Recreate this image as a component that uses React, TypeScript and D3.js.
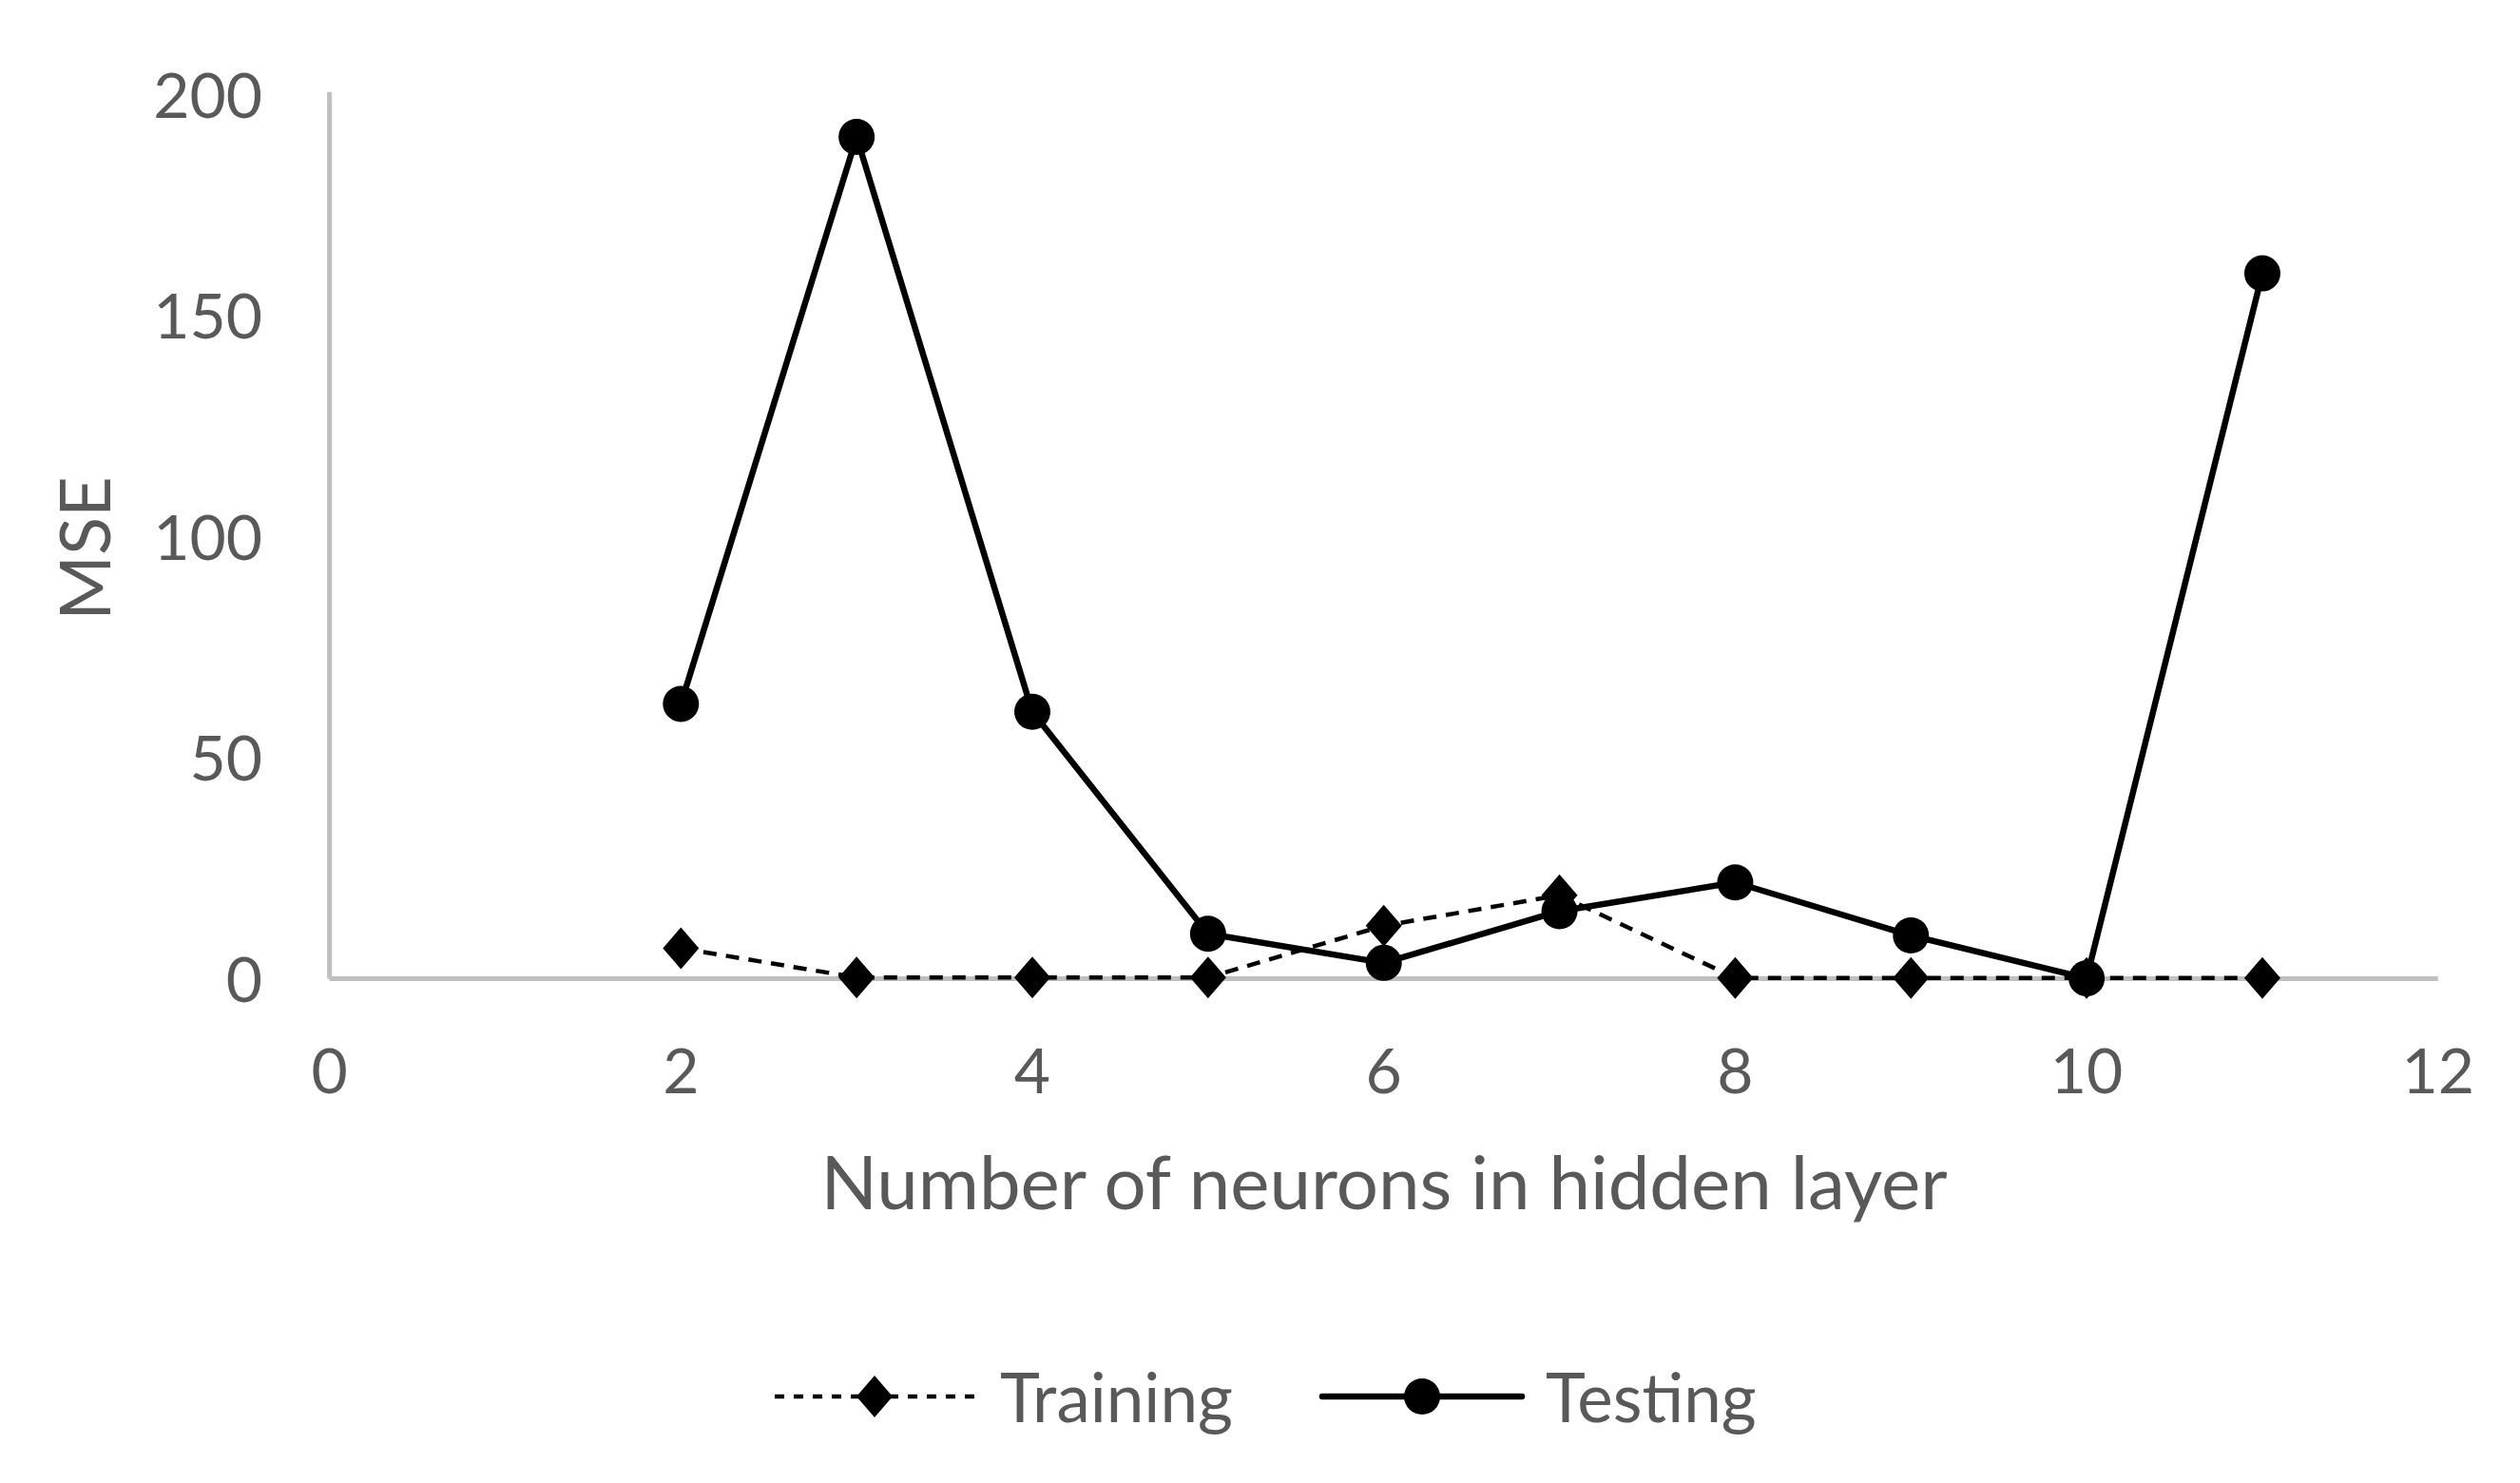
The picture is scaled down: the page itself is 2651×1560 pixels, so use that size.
import React, { useRef, useEffect } from "react";
import * as d3 from "d3";

// neurons in hidden layer
const neurons = [2, 3, 4, 5, 6, 7, 8, 9, 10, 11];
const trainingMse = [6.9, 0.3, 0.3, 0.3, 12, 18.9, 0.2, 0.2, 0.2, 0.2];
const testingMse = [62.2, 190.5, 60.4, 10.2, 3.6, 15.3, 21.8, 9.8, 0.1, 159.6];
const xTicks = [0, 2, 4, 6, 8, 10, 12];
const yTicks = [0, 50, 100, 150, 200];
const seriesNames = ["Training", "Testing"];

const W = 2651;
const H = 1560;
const FONT = "Lato, 'Open Sans', sans-serif";
const TEXT = "#595959";
const AXIS = "#bfbfbf";

const App = () => {
  const ref = useRef<SVGSVGElement | null>(null);

  useEffect(() => {
    document.body.style.margin = "0";
    const svg = d3.select(ref.current);
    svg.selectAll("*").remove();

    const x = d3.scaleLinear().domain([0, 12]).range([346.6, 2564.8]);
    const y = d3.scaleLinear().domain([0, 200]).range([1029.6, 99.8]);

    svg.append("rect").attr("width", W).attr("height", H).attr("fill", "#fff");

    // axes lines
    svg
      .append("line")
      .attr("x1", x(0))
      .attr("x2", x(0))
      .attr("y1", y(200) - 3)
      .attr("y2", y(0))
      .attr("stroke", AXIS)
      .attr("stroke-width", 5);
    svg
      .append("line")
      .attr("x1", x(0))
      .attr("x2", x(12))
      .attr("y1", y(0))
      .attr("y2", y(0))
      .attr("stroke", AXIS)
      .attr("stroke-width", 5);

    // tick labels
    svg
      .append("g")
      .selectAll("text")
      .data(xTicks)
      .enter()
      .append("text")
      .attr("x", (d) => x(d))
      .attr("y", 1150)
      .attr("text-anchor", "middle")
      .style("font-family", FONT)
      .style("font-size", "66px")
      .style("fill", TEXT)
      .text((d) => d);

    svg
      .append("g")
      .selectAll("text")
      .data(yTicks)
      .enter()
      .append("text")
      .attr("x", 276)
      .attr("y", (d) => y(d) + 24)
      .attr("text-anchor", "end")
      .style("font-family", FONT)
      .style("font-size", "66px")
      .style("fill", TEXT)
      .text((d) => d);

    // axis titles
    svg
      .append("text")
      .attr("x", 1456)
      .attr("y", 1272)
      .attr("text-anchor", "middle")
      .style("font-family", FONT)
      .style("font-size", "78px")
      .style("fill", TEXT)
      .text("Number of neurons in hidden layer");

    svg
      .append("text")
      .attr("transform", `translate(116, 577) rotate(-90)`)
      .attr("text-anchor", "middle")
      .style("font-family", FONT)
      .style("font-size", "74px")
      .style("fill", TEXT)
      .text("MSE");

    const line = d3
      .line<number>()
      .x((_, i) => x(neurons[i]))
      .y((d) => y(d));

    const diamond = (cx: number, cy: number, r = 19, h = 22) =>
      `M${cx},${cy - h}L${cx + r},${cy}L${cx},${cy + h}L${cx - r},${cy}Z`;

    // training (dashed, diamonds)
    svg
      .append("path")
      .attr("d", line(trainingMse))
      .attr("fill", "none")
      .attr("stroke", "#000")
      .attr("stroke-width", 4.5)
      .attr("stroke-dasharray", "14,10");
    svg
      .append("g")
      .selectAll("path")
      .data(trainingMse)
      .enter()
      .append("path")
      .attr("d", (d, i) => diamond(x(neurons[i]), y(d)))
      .attr("fill", "#000");

    // testing (solid, circles)
    svg
      .append("path")
      .attr("d", line(testingMse))
      .attr("fill", "none")
      .attr("stroke", "#000")
      .attr("stroke-width", 6.5)
      .attr("stroke-linejoin", "round");
    svg
      .append("g")
      .selectAll("circle")
      .data(testingMse)
      .enter()
      .append("circle")
      .attr("cx", (d, i) => x(neurons[i]))
      .attr("cy", (d) => y(d))
      .attr("r", 19)
      .attr("fill", "#000");

    // legend
    const legY = 1469;
    const leg = svg.append("g");
    leg
      .append("line")
      .attr("x1", 815)
      .attr("x2", 1026)
      .attr("y1", legY)
      .attr("y2", legY)
      .attr("stroke", "#000")
      .attr("stroke-width", 4.5)
      .attr("stroke-dasharray", "10,10");
    leg.append("path").attr("d", diamond(920, legY)).attr("fill", "#000");
    leg
      .append("text")
      .attr("x", 1052)
      .attr("y", legY + 27)
      .style("font-family", FONT)
      .style("font-size", "71px")
      .style("fill", TEXT)
      .text(seriesNames[0]);

    leg
      .append("line")
      .attr("x1", 1391)
      .attr("x2", 1601)
      .attr("y1", legY)
      .attr("y2", legY)
      .attr("stroke", "#000")
      .attr("stroke-width", 6.5)
      .attr("stroke-linecap", "round");
    leg.append("circle").attr("cx", 1496).attr("cy", legY).attr("r", 19).attr("fill", "#000");
    leg
      .append("text")
      .attr("x", 1626)
      .attr("y", legY + 27)
      .style("font-family", FONT)
      .style("font-size", "71px")
      .style("fill", TEXT)
      .text(seriesNames[1]);
  }, []);

  return <svg ref={ref} width={W} height={H} style={{ display: "block" }} />;
};

export default App;
